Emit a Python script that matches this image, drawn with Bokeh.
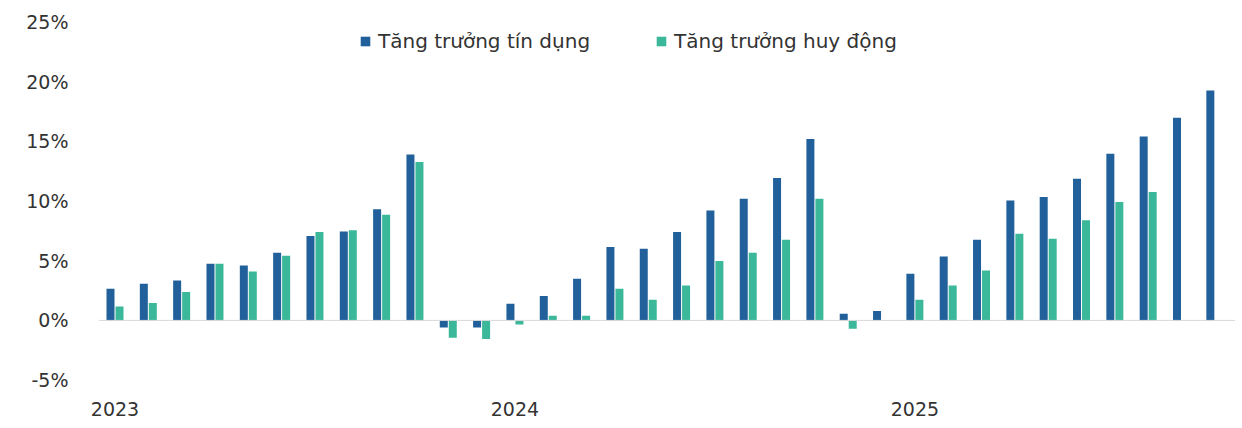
from bokeh.plotting import figure
from bokeh.models import (ColumnDataSource, Range1d, FixedTicker, Span, Legend,
                          LegendItem, CustomJSTickFormatter)
from bokeh.embed import file_html
from bokeh.resources import INLINE

# --- data (month index, % YTD growth) ---
months = list(range(34))
credit = [2.65, 3.07, 3.35, 4.75, 4.6, 5.67, 7.06, 7.45, 9.3, 13.9,
          -0.6, -0.6, 1.4, 2.04, 3.49, 6.14, 6.0, 7.4, 9.21, 10.19, 11.92, 15.2,
          0.56, 0.78, 3.91, 5.36, 6.76, 10.05, 10.33, 11.87, 13.96, 15.4, 16.97, 19.26]
deposit = [1.17, 1.45, 2.37, 4.75, 4.1, 5.42, 7.4, 7.54, 8.85, 13.26,
           -1.45, -1.55, -0.35, 0.4, 0.4, 2.65, 1.73, 2.93, 4.97, 5.67, 6.76, 10.19,
           -0.7, 0.0, 1.73, 2.93, 4.19, 7.26, 6.84, 8.38, 9.91, 10.75, None, None]
year_ticks = [0, 12, 24]
year_labels = ["2023", "2024", "2025"]
y_ticks = [-5, 0, 5, 10, 15, 20, 25]
series_names = ["Tăng trưởng tín dụng", "Tăng trưởng huy động"]

BLUE = "#21609a"
GREEN = "#3bb89a"
FONT = "DejaVu Sans"
TXT = "#333333"

dodge = 0.135
bw = 0.24
src_c = ColumnDataSource(dict(x=[m - dodge for m in months], top=credit))
dx, dt = [], []
for m, v in zip(months, deposit):
    if v is not None:
        dx.append(m + dodge)
        dt.append(v)
src_d = ColumnDataSource(dict(x=dx, top=dt))

p = figure(width=1235, height=426, output_backend="svg", toolbar_location=None,
           x_range=Range1d(-0.495, 33.62), y_range=Range1d(-5.2, 25.2),
           min_border_left=98, min_border_right=0, min_border_top=19,
           min_border_bottom=44)
p.outline_line_color = None
p.xgrid.grid_line_color = None
p.ygrid.grid_line_color = None
p.background_fill_color = "white"
p.border_fill_color = "white"

r1 = p.vbar(x="x", top="top", bottom=0, width=bw, source=src_c,
            fill_color=BLUE, line_color=None)
r2 = p.vbar(x="x", top="top", bottom=0, width=bw, source=src_d,
            fill_color=GREEN, line_color=None)

p.add_layout(Span(location=0, dimension="width", line_color="#d9d9d9", line_width=1))

# axes
p.yaxis.ticker = FixedTicker(ticks=y_ticks)
p.yaxis.formatter = CustomJSTickFormatter(code="return tick + '%';")
p.yaxis.axis_line_color = None
p.yaxis.major_tick_line_color = None
p.yaxis.minor_tick_line_color = None
p.yaxis.major_tick_out = 0
p.yaxis.minor_tick_out = 0
p.yaxis.major_label_standoff = 30
p.yaxis.major_label_text_font = FONT
p.yaxis.major_label_text_font_size = "19px"
p.yaxis.major_label_text_color = TXT

p.xaxis.ticker = FixedTicker(ticks=year_ticks)
p.xaxis.major_label_overrides = {t: l for t, l in zip(year_ticks, year_labels)}
p.xaxis.axis_line_color = None
p.xaxis.major_tick_line_color = None
p.xaxis.minor_tick_line_color = None
p.xaxis.major_tick_out = 0
p.xaxis.minor_tick_out = 0
p.xaxis.major_label_standoff = 19
p.xaxis.major_label_text_font = FONT
p.xaxis.major_label_text_font_size = "19px"
p.xaxis.major_label_text_color = TXT

legend = Legend(items=[LegendItem(label=series_names[0], renderers=[r1]),
                       LegendItem(label=series_names[1], renderers=[r2])],
                orientation="horizontal", location=(261, 329),
                background_fill_alpha=0, border_line_color=None,
                label_text_font=FONT, label_text_font_size="20px",
                label_text_color=TXT, glyph_width=12, glyph_height=12,
                spacing=65, label_standoff=7, padding=0, margin=0)
p.add_layout(legend)

open("out.html", "w").write(file_html(p, INLINE))
